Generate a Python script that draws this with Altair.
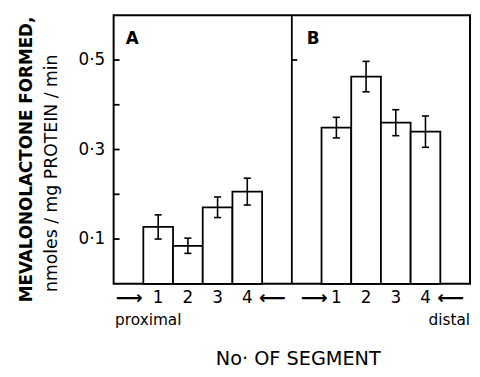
import altair as alt
import pandas as pd

# ---- data ----
segments = [1, 2, 3, 4]
panels = ["A", "B"]
mean_A = [0.127, 0.085, 0.171, 0.206]
sem_A = [0.027, 0.017, 0.023, 0.030]
mean_B = [0.349, 0.463, 0.360, 0.340]
sem_B = [0.023, 0.034, 0.029, 0.035]
panel_start = {"A": 1, "B": 7}      # slot where first bar starts (12 slots total)
y_ticks = [0.1, 0.2, 0.3, 0.4, 0.5]
divider_ticks = [0.5]

FONT = "DejaVu Sans"
W, H = 361, 272

rows = []
for p, means, sems in (("A", mean_A, sem_A), ("B", mean_B, sem_B)):
    for s, m, e in zip(segments, means, sems):
        x0 = panel_start[p] + s - 1
        rows.append(dict(panel=p, seg=str(s), x=x0, x2=x0 + 1, xc=x0 + 0.5,
                         cl=x0 + 0.38, cr=x0 + 0.62,
                         mean=m, lo=m - e, hi=m + e))
df = pd.DataFrame(rows)

xs = alt.Scale(domain=[0, 12], nice=False, zero=False)
ys = alt.Scale(domain=[0, 0.6], nice=False)

bars = alt.Chart(df).mark_bar(fill="white", stroke="black", strokeWidth=1.8).encode(
    x=alt.X("x:Q", scale=xs, axis=None),
    x2="x2:Q",
    y=alt.Y("mean:Q", scale=ys, axis=alt.Axis(
        values=y_ticks, ticks=False, domain=False, grid=False, title=None,
        labelExpr="(round(datum.value*10)%2==1) ? replace(format(datum.value,'.1f'),'.','·') : ''",
        labelFont=FONT, labelFontSize=17, labelColor="black", labelPadding=9)),
    y2=alt.Y2(datum=0),
)

err = alt.Chart(df).mark_rule(color="black", strokeWidth=1.6).encode(
    x="xc:Q", y="lo:Q", y2="hi:Q")
cap_hi = alt.Chart(df).mark_rule(color="black", strokeWidth=1.6).encode(
    x="cl:Q", x2="cr:Q", y="hi:Q")
cap_lo = alt.Chart(df).mark_rule(color="black", strokeWidth=1.6).encode(
    x="cl:Q", x2="cr:Q", y="lo:Q")

tick_df = pd.DataFrame({"v": y_ticks})
yticks = alt.Chart(tick_df).mark_rule(color="black", strokeWidth=1.8).encode(
    y="v:Q", x=alt.value(0), x2=alt.value(6))

div_df = pd.DataFrame({"xd": [6], "top": [0.6], "bot": [0.0]})
divider = alt.Chart(div_df).mark_rule(color="black", strokeWidth=1.8).encode(
    x="xd:Q", y="bot:Q", y2="top:Q")
dt_df = pd.DataFrame({"v": divider_ticks, "a": [6], "b": [6.18]})
dticks = alt.Chart(dt_df).mark_rule(color="black", strokeWidth=1.8).encode(
    x="a:Q", x2="b:Q", y="v:Q")

plab_df = pd.DataFrame({"panel": panels, "px": [0.63, 6.72], "py": [0.547, 0.547]})
plabels = alt.Chart(plab_df).mark_text(font=FONT, fontSize=17, fontWeight="bold",
                                       align="center", baseline="middle").encode(
    x="px:Q", y="py:Q", text="panel:N")

seglab = alt.Chart(df).mark_text(font=FONT, fontSize=17, align="center", baseline="middle").encode(
    x="xc:Q", y=alt.value(H + 14), text="seg:N")

arr_df = pd.DataFrame({"ax": [0.52, 5.35, 6.75, 11.35],
                       "t": ["⟶", "⟵", "⟶", "⟵"]})
arrows = alt.Chart(arr_df).mark_text(font=FONT, fontSize=19, fontWeight="bold",
                                     align="center", baseline="middle").encode(
    x="ax:Q", y=alt.value(H + 14), text="t:N")

end_df = pd.DataFrame({"ex": [0.05], "t": ["proximal"]})
prox = alt.Chart(end_df).mark_text(font=FONT, fontSize=15.5, align="left", baseline="middle").encode(
    x="ex:Q", y=alt.value(H + 37), text="t:N")
end_df2 = pd.DataFrame({"ex": [12], "t": ["distal"]})
dist = alt.Chart(end_df2).mark_text(font=FONT, fontSize=15.5, align="right", baseline="middle").encode(
    x="ex:Q", y=alt.value(H + 37), text="t:N")

xt_df = pd.DataFrame({"t": ["No· OF SEGMENT"]})
xtitle = alt.Chart(xt_df).mark_text(font=FONT, fontSize=19.5, align="center", baseline="middle").encode(
    x=alt.value(187), y=alt.value(H + 76), text="t:N")

yt1 = alt.Chart(pd.DataFrame({"t": ["MEVALONOLACTONE  FORMED,"]})).mark_text(
    font=FONT, fontSize=17, fontWeight="bold", angle=270, align="center", baseline="middle").encode(
    x=alt.value(-88), y=alt.value(146), text="t:N")
yt2 = alt.Chart(pd.DataFrame({"t": ["nmoles / mg PROTEIN / min"]})).mark_text(
    font=FONT, fontSize=17.5, angle=270, align="center", baseline="middle").encode(
    x=alt.value(-62), y=alt.value(160), text="t:N")

chart = alt.layer(bars, err, cap_hi, cap_lo, yticks, divider, dticks, plabels,
                  seglab, arrows, prox, dist, xtitle, yt1, yt2).properties(
    width=W, height=H,
    autosize=alt.AutoSizeParams(type="none"),
    padding={"left": 107, "top": 5, "right": 2, "bottom": 90},
).configure_view(stroke="black", strokeWidth=2)

chart.save("out.html", embed_options={"renderer": "svg", "actions": False})
